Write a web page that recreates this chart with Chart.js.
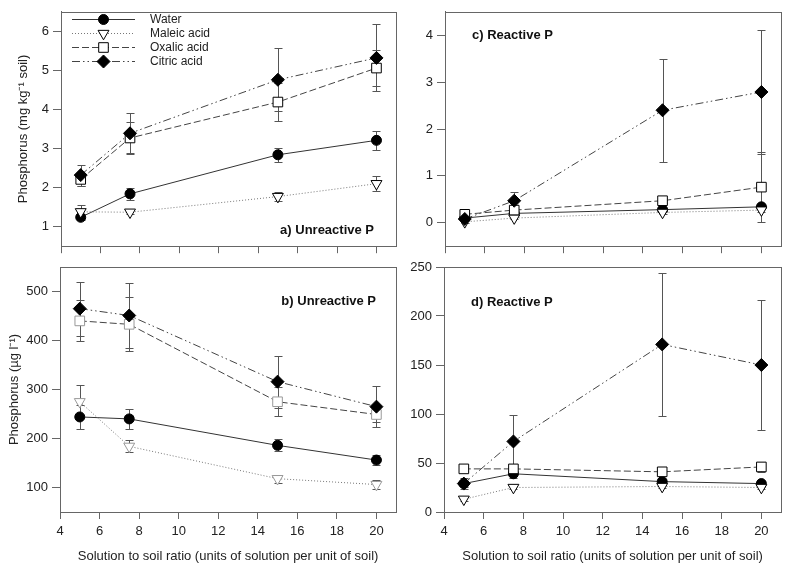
<!DOCTYPE html>
<html><head><meta charset="utf-8">
<script src="https://cdn.jsdelivr.net/npm/chart.js@4.4.0/dist/chart.umd.min.js"></script>
<style>
html,body{margin:0;padding:0;background:#fff;width:789px;height:565px;overflow:hidden}
.p{position:absolute}
</style></head><body>
<div class="p" style="left:0;top:0"><canvas id="ca" width="404" height="258"></canvas></div>
<div class="p" style="left:390px;top:0"><canvas id="cc" width="399" height="258"></canvas></div>
<div class="p" style="left:0;top:255px"><canvas id="cb" width="404" height="310"></canvas></div>
<div class="p" style="left:390px;top:255px"><canvas id="cd" width="399" height="310"></canvas></div>
<script>
// ---------- data ----------
const ratios = [5, 7.5, 15, 20];
const seriesNames = ['Water', 'Maleic acid', 'Oxalic acid', 'Citric acid'];
const xTicks = [4, 6, 8, 10, 12, 14, 16, 18, 20];

// a) Unreactive P, mg kg-1 soil
const aTicks = [1, 2, 3, 4, 5, 6];
const aWater  = [1.24, 1.84, 2.84, 3.21];  const aWaterErr  = [0.08, 0.16, 0.18, 0.24];
const aMaleic = [1.38, 1.37, 1.77, 2.10];  const aMaleicErr = [0.17, 0.05, 0.12, 0.19];
const aOxalic = [2.21, 3.27, 4.19, 5.06];  const aOxalicErr = [0.16, 0.42, 0.48, 0.47];
const aCitric = [2.32, 3.39, 4.76, 5.32];  const aCitricErr = [0.27, 0.51, 0.81, 0.86];

// b) Unreactive P, ug l-1
const bTicks = [100, 200, 300, 400, 500];
const bWater  = [244, 240, 186, 156];  const bWaterErr  = [24, 21, 12, 10];
const bMaleic = [275, 184, 118, 106];  const bMaleicErr = [34, 12, 8, 9];
const bOxalic = [440, 433, 275, 249];  const bOxalicErr = [42, 55, 30, 15];
const bCitric = [465, 451, 316, 265];  const bCitricErr = [55, 67, 53, 42];

// c) Reactive P, mg kg-1 soil
const cTicks = [0, 1, 2, 3, 4];
const cWater  = [0.10, 0.20, 0.28, 0.34];  const cWaterErr  = [0.03, 0.03, 0.04, 0.05];
const cMaleic = [0.02, 0.10, 0.22, 0.27];  const cMaleicErr = [0.03, 0.03, 0.04, 0.04];
const cOxalic = [0.18, 0.27, 0.47, 0.76];  const cOxalicErr = [0.03, 0.05, 0.05, 0.75];
const cCitric = [0.08, 0.47, 2.40, 2.79];  const cCitricErr = [0.05, 0.18, 1.10, 1.33];

// d) Reactive P, ug l-1
const dTicks = [0, 50, 100, 150, 200, 250];
const dWater  = [29, 39, 31, 29];   const dWaterErr  = [6, 4, 3, 3];
const dMaleic = [13, 25, 26, 25];   const dMaleicErr = [2, 2, 2, 2];
const dOxalic = [44, 44, 41, 46];   const dOxalicErr = [2, 5, 3, 5];
const dCitric = [29, 72, 171, 150]; const dCitricErr = [3, 27, 73, 66];

// ---------- styles ----------
Chart.defaults.font.family = "'Liberation Sans', Arial, sans-serif";
Chart.defaults.font.size = 13;
Chart.defaults.color = '#222';
Chart.defaults.animation = false;

const styles = [
  {pointStyle: 'circle',   radius: 5,   rotation: 0,   fill: '#000', stroke: '#000', line: '#333', dash: []},
  {pointStyle: 'triangle', radius: 6.3, rotation: 180, fill: '#fff', stroke: '#000', line: '#777', dash: [1, 2]},
  {pointStyle: 'rect',     radius: 6.8, rotation: 0,   fill: '#fff', stroke: '#000', line: '#444', dash: [7, 3]},
  {pointStyle: 'rectRot',  radius: 6.5, rotation: 0,   fill: '#000', stroke: '#000', line: '#444', dash: [8, 3, 1.5, 3, 1.5, 3]}
];
const AXIS = '#666';

// ---------- plugins ----------
const errorBars = {
  id: 'errorBars',
  beforeDatasetsDraw(chart) {
    const {ctx} = chart, x = chart.scales.x, y = chart.scales.y;
    ctx.save();
    ctx.strokeStyle = '#555'; ctx.lineWidth = 1; ctx.setLineDash([]);
    chart.data.datasets.forEach(ds => {
      ds.data.forEach((p, i) => {
        const e = ds.errors[i]; if (!e) return;
        const px = Math.round(x.getPixelForValue(p.x)) + 0.5;
        const y1 = Math.round(y.getPixelForValue(p.y + e)) + 0.5;
        const y2 = Math.round(y.getPixelForValue(p.y - e)) + 0.5;
        ctx.beginPath();
        ctx.moveTo(px, y1); ctx.lineTo(px, y2);
        ctx.moveTo(px - 4, y1); ctx.lineTo(px + 4, y1);
        ctx.moveTo(px - 4, y2); ctx.lineTo(px + 4, y2);
        ctx.stroke();
      });
    });
    ctx.restore();
  }
};

function drawMarker(ctx, st, x, y, strokeColor) {
  ctx.save();
  ctx.setLineDash([]); ctx.lineWidth = 1;
  ctx.fillStyle = st.fill; ctx.strokeStyle = strokeColor || st.stroke;
  ctx.beginPath();
  const r = st.radius;
  if (st.pointStyle === 'circle') ctx.arc(x, y, r, 0, Math.PI * 2);
  else if (st.pointStyle === 'triangle') {
    const h = r * Math.sqrt(3) / 2;
    ctx.moveTo(x - h, y - r / 2); ctx.lineTo(x + h, y - r / 2); ctx.lineTo(x, y + r); ctx.closePath();
  } else if (st.pointStyle === 'rect') {
    const s = r * Math.SQRT1_2; ctx.rect(x - s, y - s, 2 * s, 2 * s);
  } else {
    ctx.moveTo(x - r, y); ctx.lineTo(x, y - r); ctx.lineTo(x + r, y); ctx.lineTo(x, y + r); ctx.closePath();
  }
  ctx.fill(); ctx.stroke();
  ctx.restore();
}

const legendRows = [19.5, 33.5, 47.5, 61.5];
const panelLegend = {
  id: 'panelLegend',
  afterDraw(chart, args, opts) {
    if (!opts.show) return;
    const {ctx} = chart;
    chart.data.datasets.forEach((ds, i) => {
      const st = styles[i], y = legendRows[i];
      ctx.save();
      ctx.strokeStyle = st.line; ctx.lineWidth = 1; ctx.setLineDash(st.dash);
      ctx.beginPath(); ctx.moveTo(72, y); ctx.lineTo(135, y); ctx.stroke();
      ctx.restore();
      drawMarker(ctx, st, 103.5, y);
      ctx.save();
      ctx.fillStyle = '#222'; ctx.font = "12px 'Liberation Sans', Arial, sans-serif";
      ctx.textBaseline = 'middle'; ctx.textAlign = 'left';
      ctx.fillText(ds.label, 150, y);
      ctx.restore();
    });
  }
};

const frameAndLabel = {
  id: 'frameAndLabel',
  afterDraw(chart, args, opts) {
    const {ctx, chartArea: a} = chart;
    ctx.save();
    ctx.strokeStyle = AXIS; ctx.lineWidth = 1; ctx.setLineDash([]);
    ctx.strokeRect(Math.round(a.left) + 0.5, Math.round(a.top) + 0.5,
                   Math.round(a.right - a.left), Math.round(a.bottom - a.top));
    ctx.fillStyle = '#111';
    ctx.font = "bold 13px 'Liberation Sans', Arial, sans-serif";
    ctx.textBaseline = 'middle'; ctx.textAlign = opts.align;
    ctx.fillText(opts.text, opts.x, opts.y);
    ctx.restore();
  }
};

// ---------- chart factory ----------
function makeChart(id, vals, errs, yTicks, yMin, yMax, cfg) {
  const datasets = vals.map((v, i) => {
    const st = styles[i];
    const mstroke = (cfg.grayMarkers && cfg.grayMarkers.includes(i)) ? '#999' : st.stroke;
    return {
      label: seriesNames[i],
      data: ratios.map((r, k) => ({x: r, y: v[k]})),
      errors: errs[i],
      borderColor: st.line, borderWidth: 1, borderDash: st.dash,
      pointStyle: st.pointStyle, pointRadius: st.radius, pointRotation: st.rotation,
      pointBackgroundColor: st.fill, pointBorderColor: mstroke, pointBorderWidth: 1,
      pointHoverRadius: st.radius,
      fill: false, tension: 0, order: 3 - i, clip: false
    };
  });
  return new Chart(document.getElementById(id), {
    type: 'line',
    data: {datasets},
    plugins: [errorBars, panelLegend, frameAndLabel],
    options: {
      responsive: false,
      layout: {padding: {top: cfg.padTop, right: cfg.padRight, left: 0, bottom: 0}},
      plugins: {
        legend: {display: false}, tooltip: {enabled: false},
        panelLegend: {show: !!cfg.legend},
        frameAndLabel: cfg.label
      },
      scales: {
        x: {
          type: 'linear', min: 4, max: 21,
          afterFit: s => { s.height = cfg.xHeight; },
          afterBuildTicks: s => { s.ticks = xTicks.map(v => ({value: v})); },
          ticks: {display: cfg.xLabels, padding: 5, font: {size: 13}, color: '#222'},
          grid: {drawOnChartArea: false, drawTicks: true, tickLength: 7, color: AXIS},
          border: {display: true, color: AXIS},
          title: {display: cfg.xLabels, text: 'Solution to soil ratio (units of solution per unit of soil)',
                  font: {size: 13}, color: '#222', padding: {top: 0, bottom: 1}}
        },
        y: {
          type: 'linear', min: yMin, max: yMax,
          afterFit: s => { s.width = cfg.yWidth; },
          afterBuildTicks: s => { s.ticks = yTicks.map(v => ({value: v})); },
          ticks: {padding: 4, font: {size: 13}, color: '#222'},
          grid: {drawOnChartArea: false, drawTicks: true, tickLength: 8, color: AXIS},
          border: {display: true, color: AXIS},
          title: {display: !!cfg.yTitle, text: cfg.yTitle || '', font: {size: 13}, color: '#222',
                  padding: {top: cfg.yTitlePad || 0, bottom: 0}}
        }
      }
    }
  });
}

makeChart('ca', [aWater, aMaleic, aOxalic, aCitric], [aWaterErr, aMaleicErr, aOxalicErr, aCitricErr],
  aTicks, 0.5, 6.5,
  {padTop: 2, padRight: 1, xHeight: 10, yWidth: 61, xLabels: false, legend: true,
   yTitle: 'Phosphorus (mg kg\u207B\u00B9 soil)', yTitlePad: 16,
   label: {text: 'a) Unreactive P', x: 374, y: 230, align: 'right'}});

makeChart('cc', [cWater, cMaleic, cOxalic, cCitric], [cWaterErr, cMaleicErr, cOxalicErr, cCitricErr],
  cTicks, -0.5, 4.5,
  {padTop: 2, padRight: 2, xHeight: 10, yWidth: 55, xLabels: false,
   label: {text: 'c) Reactive P', x: 82, y: 35, align: 'left'}});

makeChart('cb', [bWater, bMaleic, bOxalic, bCitric], [bWaterErr, bMaleicErr, bOxalicErr, bCitricErr],
  bTicks, 50, 550,
  {padTop: 12, padRight: 1, xHeight: 53, yWidth: 60, xLabels: true, grayMarkers: [1, 2],
   yTitle: 'Phosphorus (\u00B5g l\u207B\u00B9)', yTitlePad: 7,
   label: {text: 'b) Unreactive P', x: 376, y: 46, align: 'right'}});

makeChart('cd', [dWater, dMaleic, dOxalic, dCitric], [dWaterErr, dMaleicErr, dOxalicErr, dCitricErr],
  dTicks, 0, 250,
  {padTop: 12, padRight: 2, xHeight: 53, yWidth: 54, xLabels: true,
   label: {text: 'd) Reactive P', x: 81, y: 47, align: 'left'}});
</script>
</body></html>
